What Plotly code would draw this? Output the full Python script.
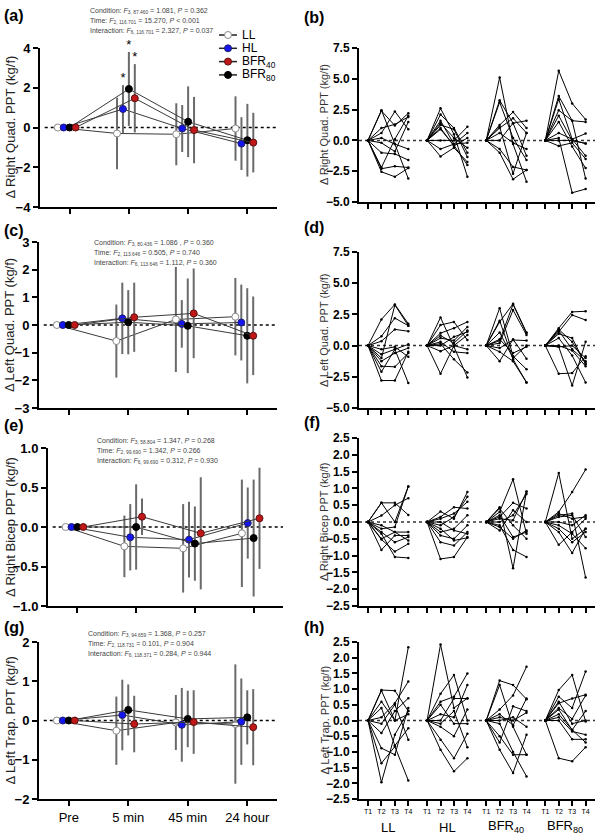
import plotly.graph_objects as go

# ── Group means (left panels) ────────────────────────────────────────────────
TIMES = ["Pre", "5 min", "45 min", "24 hour"]
SERIES = ["LL", "HL", "BFR80", "BFR40"]
NAMES = {"LL": "LL", "HL": "HL", "BFR40": "BFR<sub>40</sub>", "BFR80": "BFR<sub>80</sub>"}
LEGEND_ORDER = ["LL", "HL", "BFR40", "BFR80"]
OFFSET = {"LL": -0.2, "HL": -0.1, "BFR80": 0.0, "BFR40": 0.1}
FILL = {"LL": "#ffffff", "HL": "#1515f0", "BFR40": "#c01818", "BFR80": "#000000"}
EDGE = {"LL": "#8a8a8a", "HL": "#20206a", "BFR40": "#5a1010", "BFR80": "#000000"}

# panel (a) right quad
rq_mean = {"LL": [0, -0.30, -0.34, -0.05], "HL": [0, 0.93, -0.05, -0.81],
           "BFR80": [0, 1.94, 0.29, -0.64], "BFR40": [0, 1.47, -0.13, -0.76]}
rq_err = {"LL": [0, 1.80, 1.56, 1.62], "HL": [0, 1.20, 1.18, 1.33],
          "BFR80": [0, 1.86, 1.78, 1.83], "BFR40": [0, 1.72, 1.67, 1.50]}
# panel (c) left quad
lq_mean = {"LL": [0, -0.58, 0.20, 0.30], "HL": [0, 0.24, 0.04, 0.09],
           "BFR80": [0, 0.10, -0.03, -0.39], "BFR40": [0, 0.28, 0.42, -0.39]}
lq_err = {"LL": [0, 1.32, 1.90, 1.40], "HL": [0, 1.29, 0.86, 1.37],
          "BFR80": [0, 1.16, 1.71, 1.72], "BFR40": [0, 1.25, 1.62, 1.42]}
# panel (e) right bicep
rb_mean = {"LL": [0, -0.245, -0.27, -0.08], "HL": [0, -0.13, -0.16, 0.05],
           "BFR80": [0, 0.0, -0.21, -0.14], "BFR40": [0, 0.13, -0.08, 0.11]}
rb_err = {"LL": [0, 0.39, 0.56, 0.68], "HL": [0, 0.42, 0.48, 0.45],
          "BFR80": [0, 0.54, 0.47, 0.74], "BFR40": [0, 0.23, 0.71, 0.64]}
# panel (g) left trap
lt_mean = {"LL": [0, -0.26, -0.05, -0.09], "HL": [0, 0.14, -0.11, -0.03],
           "BFR80": [0, 0.27, 0.04, 0.08], "BFR40": [0, -0.09, -0.04, -0.17]}
lt_err = {"LL": [0, 0.87, 0.70, 1.52], "HL": [0, 0.90, 0.94, 1.10],
          "BFR80": [0, 0.65, 0.72, 0.69], "BFR40": [0, 0.72, 0.81, 0.97]}

# significant groups at 5 min in panel (a) (star sits on top of the error bar)
star_series = ["HL", "BFR80", "BFR40"]
STAR_TIME = 1

# ── Individual responses (right panels), values at T2..T4 (T1 = 0) ─────────
GROUPS = ["LL", "HL", "BFR40", "BFR80"]
GROUP_LABELS = ["LL", "HL", "BFR<sub>40</sub>", "BFR<sub>80</sub>"]
T_LABELS = ["T1", "T2", "T3", "T4"]

rq_subj = {
    "LL": [[2.45, -0.3, -3.1], [2.4, 1.2, 2.2], [1.0, 1.3, 1.9], [0.6, 2.35, 0.9], [0.2, -0.3, -0.7],
           [-0.2, -0.9, 1.5], [-1.0, -1.1, -1.6], [-2.3, -2.1, -2.2], [-2.55, -2.95, -2.25], [-2.2, 0.1, 2.0]],
    "HL": [[2.6, 0.5, -2.95], [2.1, 1.0, -1.0], [1.6, -0.3, 0.6], [1.25, 0.9, -1.35], [1.0, -0.45, 0.2],
           [0.9, -0.4, -2.0], [0.0, 0.0, 1.1], [-0.7, -0.3, -0.2], [-1.3, -0.6, -1.75], [1.4, 0.2, -0.6]],
    "BFR40": [[5.1, -0.3, -3.35], [3.25, 1.4, -1.25], [3.1, 0.2, -1.6], [1.25, 2.3, 1.0], [1.0, 1.8, 0.6],
              [0.6, -0.2, -0.7], [0.0, 1.4, 1.6], [-0.7, -2.15, -2.4], [-1.0, -3.15, -2.4], [1.1, -2.7, 0.6]],
    "BFR80": [[5.65, 3.0, 1.7], [3.6, 1.6, 1.5], [3.35, 0.1, -1.25], [2.45, 1.6, -3.1], [2.0, 0.0, -0.25],
              [1.5, -0.5, -2.25], [0.6, 0.1, 0.55], [0.2, -4.25, -3.95], [0.0, 0.0, -0.25], [-0.45, -0.2, -1.5]],
}
lq_subj = {
    "LL": [[2.1, 3.3, 1.75], [0.75, 2.2, 1.6], [0.35, 1.3, 1.15], [-0.3, -0.1, -0.9], [-0.7, -0.3, 0.1],
           [-1.25, -0.6, -0.2], [-1.65, -1.7, -0.6], [-2.1, -0.3, -3.0], [-2.8, -2.8, -0.5], [-1.0, 3.25, 1.6]],
    "HL": [[2.25, -0.1, -2.55], [1.65, 1.9, 0.45], [1.0, 1.4, 1.9], [0.6, 0.4, 1.5], [0.15, -1.1, -2.15],
           [0.0, 0.7, 1.1], [-0.45, 0.0, -0.3], [-2.25, 0.0, 0.85], [0.3, -0.5, -0.6], [0.8, 0.2, 1.2]],
    "BFR40": [[3.0, -0.85, -1.9], [1.9, 3.35, 1.05], [1.05, -1.0, 0.0], [0.2, 2.85, 0.85], [-0.2, 0.45, 0.4],
              [-0.5, -1.25, -2.95], [-1.25, 0.5, -1.05], [0.5, -0.6, -0.1], [2.0, -1.1, -2.95], [0.4, 3.3, 1.0]],
    "BFR80": [[1.4, 2.7, 2.75], [1.1, 2.45, 2.05], [0.95, 0.6, -1.5], [1.2, -0.3, -1.25], [-0.1, -3.2, 0.3],
              [-2.25, -2.2, -0.85], [0.0, -0.4, -1.65], [0.6, -0.8, -2.95], [-0.1, 0.0, -1.0], [1.3, 0.3, -1.4]],
}
rb_subj = {
    "LL": [[0.57, 0.57, 0.21], [0.57, 0.0, 1.06], [0.19, 0.5, 0.71], [-0.1, -0.3, -0.3], [-0.3, -0.6, -0.45],
           [-0.52, -0.88, -0.65], [-0.83, -0.4, -0.4], [-0.35, -1.04, -1.07], [-0.2, -0.15, 1.06], [-0.5, -0.3, -0.55]],
    "HL": [[0.31, 0.1, 0.89], [0.15, 0.44, 0.4], [-0.1, 0.15, 0.75], [-0.3, -0.2, 0.2], [-0.4, -0.5, -0.1],
           [-0.6, -0.7, -0.3], [-1.1, -1.04, -0.45], [0.0, -0.25, -0.35], [-0.2, -0.55, -0.47], [0.1, 0.25, 0.6]],
    "BFR40": [[0.44, -1.38, 0.91], [0.3, 1.27, -0.35], [0.15, 0.57, 0.4], [0.0, 0.2, 0.83], [-0.1, -0.83, -1.04],
              [-0.25, 0.35, 0.0], [0.2, -0.45, -0.3], [0.1, 0.05, 0.9], [0.4, -0.1, -0.5], [-0.15, -0.5, -0.25]],
    "BFR80": [[1.46, -0.5, -0.2], [0.3, 0.89, 1.56], [0.2, 0.25, -1.65], [0.0, -0.1, 0.2], [-0.1, -0.35, -0.78],
              [-0.3, -0.92, -0.2], [-0.68, -0.3, 0.1], [0.15, 0.2, -0.45], [-0.2, -0.6, -0.3], [0.25, 0.1, 0.15]],
}
lt_subj = {
    "LL": [[0.97, 0.95, 0.3], [0.95, 0.0, 2.33], [0.1, 0.55, 1.24], [-0.4, 0.3, 0.71], [-0.88, -1.09, 0.4],
           [-1.36, -0.83, -1.91], [-1.97, -0.45, 0.3], [0.4, -0.8, -0.25], [-0.1, 0.5, -0.61], [0.6, 0.0, 0.2]],
    "HL": [[2.42, 0.4, 0.71], [0.85, 1.45, 0.0], [0.6, 0.76, 1.5], [0.2, 0.1, 1.13], [-0.2, -0.5, 0.35],
           [-0.61, -1.2, -0.42], [-0.93, -1.62, -1.2], [0.0, 0.7, 0.7], [0.5, -0.1, -0.1], [-0.1, 0.3, -0.85]],
    "BFR40": [[1.27, 1.13, 0.68], [1.13, -0.2, -1.09], [0.35, 0.8, 1.71], [0.0, 0.1, -0.2], [-0.5, -1.09, -1.09],
              [-0.7, 0.45, 0.3], [-0.93, -1.67, -0.45], [0.2, -0.15, 0.7], [-0.1, -1.0, -1.78], [0.1, 0.0, 0.25]],
    "BFR80": [[0.97, 1.45, -0.03], [0.76, 0.4, 1.56], [0.55, 0.7, 0.82], [0.35, -0.3, 0.3], [0.1, -0.35, -0.45],
              [-1.2, -1.3, -0.85], [0.0, -0.6, -0.6], [0.4, 0.05, 0.8], [0.2, -0.3, -0.7], [0.6, -0.1, 0.0]],
}

STATS = {
    "a": ["Condition: <i>F</i><sub>3, 87.460</sub> = 1.081, <i>P</i> = 0.362",
          "Time: <i>F</i><sub>2, 116.701</sub> = 15.270, <i>P</i> < 0.001",
          "Interaction: <i>F</i><sub>6, 116.701</sub> = 2.327, <i>P</i> = 0.037"],
    "c": ["Condition: <i>F</i><sub>3, 80.436</sub> = 1.086 , <i>P</i> = 0.360",
          "Time: <i>F</i><sub>2, 113.646</sub> = 0.505, <i>P</i> = 0.740",
          "Interaction: <i>F</i><sub>6, 113.646</sub> = 1.112, <i>P</i> = 0.360"],
    "e": ["Condition: <i>F</i><sub>3, 58.804</sub> = 1.347, <i>P</i> = 0.268",
          "Time: <i>F</i><sub>2, 99.690</sub> = 1.342, <i>P</i> = 0.266",
          "Interaction: <i>F</i><sub>6, 99.690</sub> = 0.312, <i>P</i> = 0.930"],
    "g": ["Condition: <i>F</i><sub>3, 94.659</sub> = 1.368, <i>P</i> = 0.257",
          "Time: <i>F</i><sub>2, 118.731</sub> = 0.101, <i>P</i> = 0.904",
          "Interaction: <i>F</i><sub>6, 118.371</sub> = 0.284, <i>P</i> = 0.944"],
}

# ── Layout helpers (pixel -> paper) ─────────────────────────────────────────
W, H = 600, 836
FONT = "Liberation Sans, Arial, sans-serif"
GAP = 4.4  # spacing between groups on right panels


def fx(p):
    return p / W


def fy(p):
    return 1 - p / H


def ax_ids(i):
    s = "" if i == 1 else str(i)
    return f"x{s}", f"y{s}", f"xaxis{s}", f"yaxis{s}"


# label, axis idx, x px, y px, y range, dtick, format, title, means, errs, stats pos, label y
LEFT = [
    ("a", 1, (40, 277), (48, 207), (-4, 4), 2, "d", "Δ Right Quad. PPT (kg/f)", rq_mean, rq_err, (88, 5), 16),
    ("c", 3, (39, 277), (242, 408), (-3, 3), 1, "d", "Δ Left Quad. PPT (kg/f)", lq_mean, lq_err, (92, 237), 230),
    ("e", 5, (48, 283), (448, 606), (-1, 1), 0.5, ".1f", "Δ Right Bicep PPT (kg/f)", rb_mean, rb_err, (95, 441), 425),
    ("g", 7, (39, 277), (642, 799), (-2, 2), 1, "d", "Δ Left Trap. PPT (kg/f)", lt_mean, lt_err, (86, 640), 627),
]
RIGHT = [
    ("b", 2, (48, 202), (-5, 7.5), 2.5, "Δ Right Quad. PPT (kg/f)", rq_subj, 17),
    ("d", 4, (252, 408), (-5, 7.5), 2.5, "Δ Left Quad. PPT (kg/f)", lq_subj, 228),
    ("f", 6, (438, 606), (-2.5, 2.5), 0.5, "Δ Right Bicep PPT (kg/f)", rb_subj, 423),
    ("h", 8, (642, 799), (-2.5, 2.5), 0.5, "Δ Left Trap. PPT (kg/f)", lt_subj, 627),
]

fig = go.Figure()
layout = {}
annotations = []
shapes = []

axis_common = dict(showline=True, linecolor="black", linewidth=2, ticks="outside",
                   ticklen=5, tickwidth=2, tickcolor="black", showgrid=False,
                   zeroline=False, fixedrange=True, automargin=False)

for label, i, xr, yr, rng, dt, fmt, title, means, errs, spos, ly in LEFT:
    xa, ya, xk, yk = ax_ids(i)
    for s in SERIES:
        fig.add_trace(go.Scatter(
            x=[t + OFFSET[s] for t in range(len(TIMES))], y=means[s],
            mode="lines+markers", xaxis=xa, yaxis=ya, showlegend=False,
            line=dict(color="#3a3a3a", width=1),
            marker=dict(size=7, color=FILL[s], line=dict(color=EDGE[s], width=1)),
            error_y=dict(type="data", array=errs[s], color="#6a6a6a", thickness=2, width=0),
            cliponaxis=False,
        ))
    layout[xk] = dict(axis_common, domain=[fx(xr[0]), fx(xr[1])], anchor=ya,
                      range=[-0.5, 3.5], tickvals=list(range(4)), ticktext=TIMES,
                      showticklabels=(label == "g"),
                      tickfont=dict(family=FONT, size=13, color="black"))
    layout[yk] = dict(axis_common, domain=[fy(yr[1]), fy(yr[0])], anchor=xa,
                      range=list(rng), dtick=dt, tick0=0, tickformat=fmt,
                      tickfont=dict(family=FONT, size=13, color="black", weight="bold"))
    shapes.append(dict(type="line", xref=f"{xa} domain", yref=ya, x0=0.02, x1=1, y0=0, y1=0,
                       line=dict(color="black", width=1.5, dash="dot"), layer="below"))
    annotations.append(dict(text=title, textangle=-90, xref="paper", yref="paper",
                            x=fx(10), y=fy((yr[0] + yr[1]) / 2), xanchor="center",
                            yanchor="middle", showarrow=False,
                            font=dict(family=FONT, size=13, color="#222")))
    annotations.append(dict(text=f"<b>({label})</b>", xref="paper", yref="paper",
                            x=fx(2), y=fy(ly), xanchor="left", yanchor="middle", showarrow=False,
                            font=dict(family=FONT, size=16, color="black")))
    for k, line in enumerate(STATS[label]):
        annotations.append(dict(text=line, xref="paper", yref="paper", xanchor="left",
                                x=fx(spos[0]), y=fy(spos[1] + 10 * k), showarrow=False,
                                font=dict(family=FONT, size=7, color="#444")))

# significance stars above the 5-min error bars in panel (a)
fig.add_trace(go.Scatter(
    x=[STAR_TIME + OFFSET[s] for s in star_series],
    y=[rq_mean[s][STAR_TIME] + rq_err[s][STAR_TIME] for s in star_series],
    mode="text", text=["*"] * len(star_series), textposition="top center",
    textfont=dict(family=FONT, size=13, color="black"), xaxis="x", yaxis="y",
    showlegend=False, cliponaxis=False,
))

tickvals_r = [g * GAP + t for g in range(len(GROUPS)) for t in range(4)]
for label, i, yr, rng, dt, title, subj, ly in RIGHT:
    xa, ya, xk, yk = ax_ids(i)
    for g, grp in enumerate(GROUPS):
        xs, ys = [], []
        for row in subj[grp]:
            xs += [g * GAP + t for t in range(4)] + [None]
            ys += [0] + row + [None]
        fig.add_trace(go.Scatter(
            x=xs, y=ys, mode="lines+markers", xaxis=xa, yaxis=ya, showlegend=False,
            line=dict(color="black", width=1), marker=dict(size=2.5, color="black"),
            connectgaps=False,
        ))
    layout[xk] = dict(axis_common, domain=[fx(359), fx(595)], anchor=ya,
                      range=[-0.67, 3 * GAP + 3.7], tickvals=tickvals_r,
                      ticktext=T_LABELS * len(GROUPS), showticklabels=(label == "h"),
                      tickfont=dict(family=FONT, size=7, color="black"))
    layout[yk] = dict(axis_common, domain=[fy(yr[1]), fy(yr[0])], anchor=xa,
                      range=list(rng), dtick=dt, tick0=0, tickformat=".1f",
                      tickfont=dict(family=FONT, size=12, color="black", weight="bold"))
    shapes.append(dict(type="line", xref=f"{xa} domain", yref=ya, x0=0, x1=1, y0=0, y1=0,
                       line=dict(color="#333", width=1.5, dash="dot"), layer="below"))
    annotations.append(dict(text=title, textangle=-90, xref="paper", yref="paper",
                            x=fx(324), y=fy((yr[0] + yr[1]) / 2), xanchor="center",
                            yanchor="middle", showarrow=False,
                            font=dict(family=FONT, size=11, color="#333")))
    annotations.append(dict(text=f"<b>({label})</b>", xref="paper", yref="paper",
                            x=fx(302), y=fy(ly), xanchor="left", yanchor="middle", showarrow=False,
                            font=dict(family=FONT, size=16, color="black")))

# group labels under panel (h)
for g, gl in enumerate(GROUP_LABELS):
    annotations.append(dict(text=gl, xref="x8", yref="paper", x=g * GAP + 1.5, y=fy(836),
                            xanchor="center", yanchor="bottom", showarrow=False, borderpad=0,
                            font=dict(family=FONT, size=13, color="black")))

# hand-built legend inside panel (a)
for k, s in enumerate(LEGEND_ORDER):
    yc = fy(35 + 13.3 * k)
    shapes.append(dict(type="line", xref="paper", yref="paper", x0=fx(219), x1=fx(237),
                       y0=yc, y1=yc, line=dict(color="#222", width=1.5)))
    shapes.append(dict(type="circle", xref="paper", yref="paper", x0=fx(224.5), x1=fx(231.5),
                       y0=yc - 3.5 / H, y1=yc + 3.5 / H, fillcolor=FILL[s],
                       line=dict(color=EDGE[s], width=1)))
    annotations.append(dict(text=NAMES[s], xref="paper", yref="paper", x=fx(241), y=yc,
                            xanchor="left", yanchor="middle", showarrow=False, borderpad=0,
                            font=dict(family=FONT, size=12, color="black")))

fig.update_layout(
    **layout,
    width=W, height=H,
    margin=dict(l=0, r=0, t=0, b=0, autoexpand=False),
    paper_bgcolor="white", plot_bgcolor="white",
    annotations=annotations, shapes=shapes,
    showlegend=False,
)

fig.write_html("out.html", config={"displayModeBar": False},
               post_script="document.body.style.margin='0';")
